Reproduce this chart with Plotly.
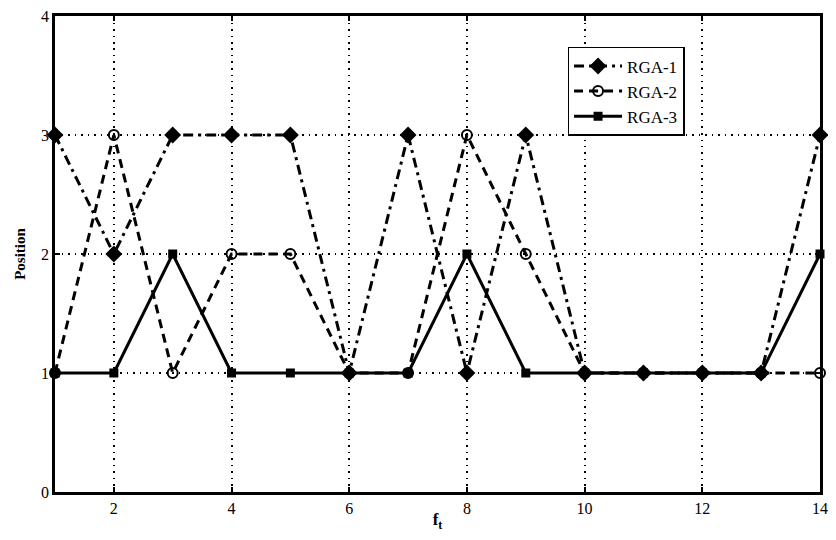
import plotly.graph_objects as go

x_vals = list(range(1, 15))
rga1 = [3, 2, 3, 3, 3, 1, 3, 1, 3, 1, 1, 1, 1, 3]
rga2 = [1, 3, 1, 2, 2, 1, 1, 3, 2, 1, 1, 1, 1, 1]
rga3 = [1, 1, 2, 1, 1, 1, 1, 2, 1, 1, 1, 1, 1, 2]
series_names = ["RGA-1", "RGA-2", "RGA-3"]
x_ticks = [2, 4, 6, 8, 10, 12, 14]
y_ticks = [0, 1, 2, 3, 4]

FONT = "Liberation Serif"

fig = go.Figure()
fig.add_trace(go.Scatter(
    x=x_vals, y=rga1, name=series_names[0], mode="lines+markers",
    line=dict(color="black", width=3, dash="10px,5px,3px,5px"),
    marker=dict(symbol="diamond", size=13, color="black"),
    cliponaxis=False))
fig.add_trace(go.Scatter(
    x=x_vals, y=rga2, name=series_names[1], mode="lines+markers",
    line=dict(color="black", width=3, dash="9px,6px"),
    marker=dict(symbol="circle-open", size=10, color="black", line=dict(width=2, color="black")),
    cliponaxis=False))
fig.add_trace(go.Scatter(
    x=x_vals, y=rga3, name=series_names[2], mode="lines+markers",
    line=dict(color="black", width=3),
    marker=dict(symbol="square", size=9, color="black"),
    cliponaxis=False))

axis_common = dict(
    showline=True, linecolor="black", linewidth=2.5, mirror="ticks",
    ticks="inside", ticklen=5, tickwidth=1.5, tickcolor="black",
    showgrid=True, gridcolor="black", gridwidth=1.5, griddash="1.5px,5px",
    zeroline=False, automargin=False, ticklabeloverflow="allow",
    tickfont=dict(family=FONT, size=16, color="black"),
)

fig.update_xaxes(range=[1, 14], tickvals=x_ticks,
                 title=dict(text="<b>f<sub>t</sub></b>", font=dict(family=FONT, size=17, color="black"), standoff=2),
                 **axis_common)
fig.update_yaxes(range=[0, 4], tickvals=y_ticks,
                 title=dict(text="<b>Position</b>", font=dict(family=FONT, size=15, color="black"), standoff=12),
                 **axis_common)

fig.update_layout(
    width=820, height=524,
    margin=dict(l=47, r=8, t=8, b=40),
    plot_bgcolor="white", paper_bgcolor="white",
    font=dict(family=FONT, color="black"),
    legend=dict(x=0.67, y=0.935, xanchor="left", yanchor="top",
                bgcolor="white", bordercolor="black", borderwidth=1.5,
                font=dict(family=FONT, size=17, color="black"),
                tracegroupgap=0, itemwidth=48),
    showlegend=True,
)

fig.write_html("out.html")
